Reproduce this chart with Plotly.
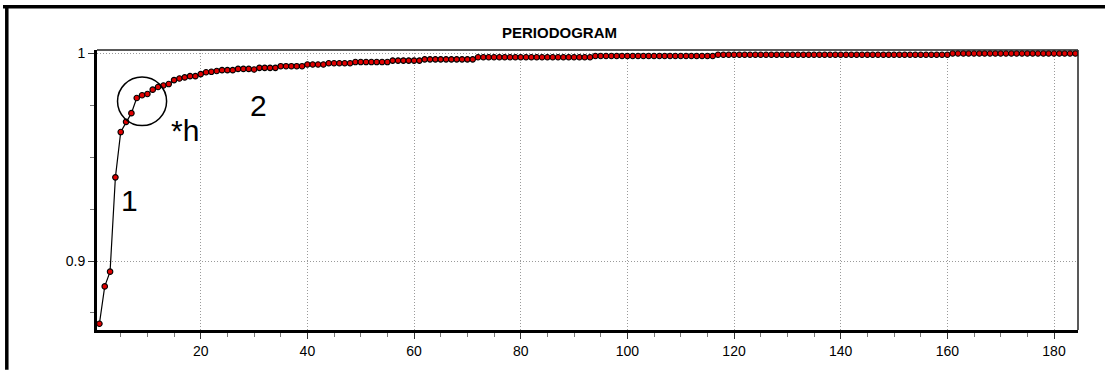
import plotly.graph_objects as go

# ---------------- data ----------------
lag = list(range(1, 185))
periodogram = [
    0.8698, 0.8878, 0.8949, 0.9403, 0.9621, 0.9670, 0.9712, 0.9785, 0.9798, 0.9804,
    0.9825, 0.9838, 0.9845, 0.9852, 0.9871, 0.9879, 0.9884, 0.9890, 0.9890, 0.9900,
    0.9909, 0.9911, 0.9915, 0.9919, 0.9919, 0.9919, 0.9925, 0.9925, 0.9925, 0.9922,
    0.9930, 0.9930, 0.9930, 0.9930, 0.9938, 0.9938, 0.9938, 0.9938, 0.9938, 0.9946,
    0.9946, 0.9946, 0.9946, 0.9952, 0.9952, 0.9952, 0.9952, 0.9952, 0.9958, 0.9958,
    0.9958, 0.9958, 0.9958, 0.9958, 0.9958, 0.9965, 0.9965, 0.9965, 0.9965, 0.9965,
    0.9965, 0.9971, 0.9971, 0.9971, 0.9971, 0.9971, 0.9971, 0.9971, 0.9971, 0.9971,
    0.9971, 0.9981, 0.9981, 0.9981, 0.9981, 0.9981, 0.9981, 0.9981, 0.9981, 0.9981,
    0.9981, 0.9981, 0.9981, 0.9981, 0.9981, 0.9981, 0.9981, 0.9981, 0.9981, 0.9981,
    0.9981, 0.9981, 0.9981, 0.9987, 0.9987, 0.9987, 0.9987, 0.9987, 0.9987, 0.9987,
    0.9987, 0.9987, 0.9987, 0.9987, 0.9987, 0.9987, 0.9987, 0.9987, 0.9987, 0.9987,
    0.9987, 0.9987, 0.9987, 0.9987, 0.9987, 0.9987, 0.9993, 0.9993, 0.9993, 0.9993,
    0.9993, 0.9993, 0.9993, 0.9993, 0.9993, 0.9993, 0.9993, 0.9993, 0.9993, 0.9993,
    0.9993, 0.9993, 0.9993, 0.9993, 0.9993, 0.9993, 0.9993, 0.9993, 0.9993, 0.9993,
    0.9993, 0.9993, 0.9993, 0.9993, 0.9993, 0.9993, 0.9993, 0.9993, 0.9993, 0.9993,
    0.9993, 0.9993, 0.9993, 0.9993, 0.9993, 0.9993, 0.9993, 0.9993, 0.9993, 0.9993,
    0.9999, 0.9999, 0.9999, 0.9999, 0.9999, 0.9999, 0.9999, 0.9999, 0.9999, 0.9999,
    0.9999, 0.9999, 0.9999, 0.9999, 0.9999, 0.9999, 0.9999, 0.9999, 0.9999, 0.9999,
    0.9999, 0.9999, 0.9999, 0.9999,
]
title_text = "PERIODOGRAM"
x_tick_vals = [20, 40, 60, 80, 100, 120, 140, 160, 180]
y_tick_vals = [0.9, 1.0]
y_tick_text = ["0.9", "1"]
labels = ["1", "2", "*h"]
label_x = [6.56, 30.75, 16.97]
label_y = [0.929, 0.9748, 0.9629]
knee_x = 9.0
knee_y = 0.9769

# ---------------- layout geometry ----------------
W, H = 1105, 371
ML, MR, MT, MB = 97, 27, 50, 39
PW, PH = W - ML - MR, H - MT - MB


def px_x(p):
    return (p - ML) / PW


def px_y(p):
    return 1 - (p - MT) / PH


FONT = "Arial, 'Liberation Sans', sans-serif"

fig = go.Figure()
fig.add_trace(go.Scatter(
    x=lag, y=periodogram, mode="lines+markers",
    line=dict(color="black", width=1.2),
    marker=dict(size=5.5, color="#e00000", line=dict(color="black", width=1.1)),
    showlegend=False, hoverinfo="x+y",
))

shapes = [
    # thin top and right frame of the plot area
    dict(type="line", xref="paper", yref="paper", x0=0, x1=1, y0=1, y1=1,
         line=dict(color="#222", width=1.5), layer="above"),
    dict(type="line", xref="paper", yref="paper", x0=1, x1=1, y0=0, y1=1,
         line=dict(color="#222", width=1.5), layer="above"),
    # outer window frame (top and left)
    dict(type="line", xref="paper", yref="paper", x0=px_x(3), x1=px_x(1105),
         y0=px_y(6.5), y1=px_y(6.5), line=dict(color="black", width=3.5)),
    dict(type="line", xref="paper", yref="paper", x0=px_x(6.8), x1=px_x(6.8),
         y0=px_y(5), y1=px_y(372), line=dict(color="black", width=3.5)),
    # circle round the knee point *h
    dict(type="circle", xref="x", yref="y",
         x0=knee_x - 4.6, x1=knee_x + 4.6,
         y0=knee_y - 0.0117, y1=knee_y + 0.0117,
         line=dict(color="black", width=1.5)),
]

annotations = [
    dict(text="<b>" + title_text + "</b>", xref="paper", yref="paper",
         x=px_x(559.5), y=px_y(32), xanchor="center", yanchor="middle",
         showarrow=False, font=dict(family=FONT, size=15, color="black")),
]
for t, lx, ly in zip(labels, label_x, label_y):
    annotations.append(dict(text=t, x=lx, y=ly, xref="x", yref="y",
                            xanchor="center", yanchor="middle", showarrow=False,
                            font=dict(family=FONT, size=30, color="black")))

GRID = dict(showgrid=True, gridcolor="#9a9a9a", griddash="1px,2px", gridwidth=1)

fig.update_layout(
    width=W, height=H,
    margin=dict(l=ML, r=MR, t=MT, b=MB, pad=0),
    paper_bgcolor="white", plot_bgcolor="white",
    font=dict(family=FONT, size=14, color="black"),
    shapes=shapes, annotations=annotations,
    xaxis=dict(
        range=[0.55, 184.5], tickvals=x_tick_vals,
        showline=True, linecolor="black", linewidth=3,
        ticks="outside", ticklen=6, tickwidth=1, tickcolor="#333",
        zeroline=False, tickfont=dict(family=FONT, size=14, color="black"),
        minor=dict(dtick=5, tick0=0, ticks="outside", ticklen=4, tickwidth=1,
                   tickcolor="#777", showgrid=False),
        **GRID,
    ),
    yaxis=dict(
        range=[0.8668, 1.0016], tickvals=y_tick_vals, ticktext=y_tick_text,
        showline=True, linecolor="black", linewidth=3,
        ticks="outside", ticklen=6, tickwidth=1, tickcolor="#333",
        zeroline=False, tickfont=dict(family=FONT, size=14, color="black"),
        minor=dict(dtick=0.025, tick0=0, ticks="outside", ticklen=4, tickwidth=1,
                   tickcolor="#777", showgrid=False),
        **GRID,
    ),
)

fig.write_html(
    "out.html",
    config={"displayModeBar": False},
    post_script="document.body.style.margin='0';document.body.style.overflow='hidden';",
)
